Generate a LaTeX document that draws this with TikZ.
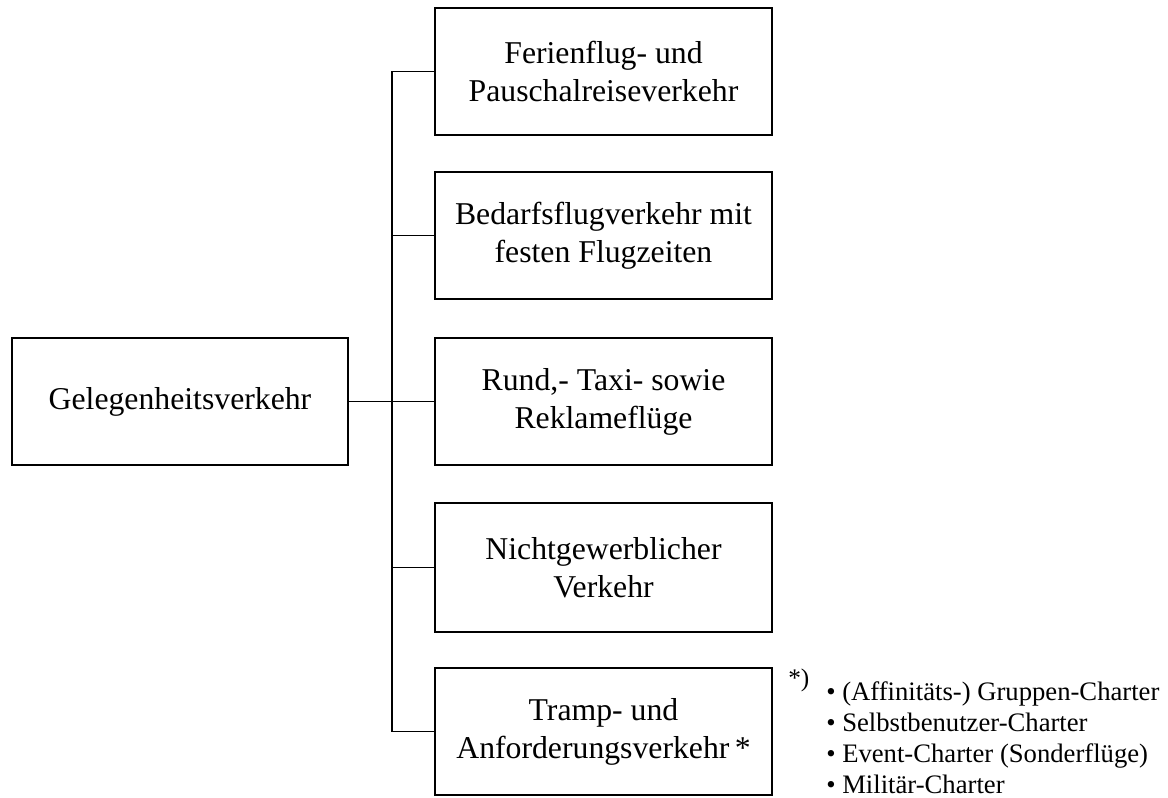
\documentclass[tikz,border=0pt]{standalone}
\usepackage{fontspec}
\setmainfont{Liberation Serif}
\begin{document}
\begin{tikzpicture}[x=0.75pt,y=-0.75pt,
  box/.style={draw=black,line width=1.9pt,inner sep=0pt,align=center,
    minimum width=252.5pt,minimum height=95.5pt,
    font=\fontsize{23.8}{28.5}\selectfont},
  conn/.style={draw=black,line width=1.3pt},
  foot/.style={anchor=base west,inner sep=0pt,font=\fontsize{20}{24}\selectfont}]
\useasboundingbox (0,0) rectangle (1168,798);
\node[box,minimum width=252pt] (root) at (180,401.5) {Gelegenheitsverkehr};
\node[box] (b1) at (603.5,71.5) {Ferienflug- und\\ Pauschalreiseverkehr};
\node[box] (b2) at (603.5,235.5) {Bedarfsflugverkehr mit\\ festen Flugzeiten};
\node[box] (b3) at (603.5,401.5) {Rund,- Taxi- sowie\\ Reklameflüge};
\node[box,minimum height=97pt] (b4) at (603.5,567.5) {Nichtgewerblicher\\ Verkehr};
\node[box] (b5) at (603.5,731.5) {Tramp- und\\ Anforderungsverkehr\,*};
\coordinate (trunk) at (392,0);
\draw[conn] (b1.west) -- (b1.west -| trunk) -- (b5.west -| trunk) -- (b5.west);
\draw[conn] (b2.west) -- (b2.west -| trunk);
\draw[conn] (b3.west) -- (b3.west -| trunk);
\draw[conn] (b4.west) -- (b4.west -| trunk);
\draw[conn] (root.east) -- (root.east -| trunk);
\node[foot,font=\fontsize{19}{22}\selectfont] (star) at (788,686) {*)};
\node[foot] (f1) at (826,700) {\textbullet\ (Affinitäts-) Gruppen-Charter};
\node[foot] (f2) at (826,731) {\textbullet\ Selbstbenutzer-Charter};
\node[foot] (f3) at (826,762) {\textbullet\ Event-Charter (Sonderflüge)};
\node[foot] (f4) at (826,793) {\textbullet\ Militär-Charter};
\end{tikzpicture}
\end{document}
